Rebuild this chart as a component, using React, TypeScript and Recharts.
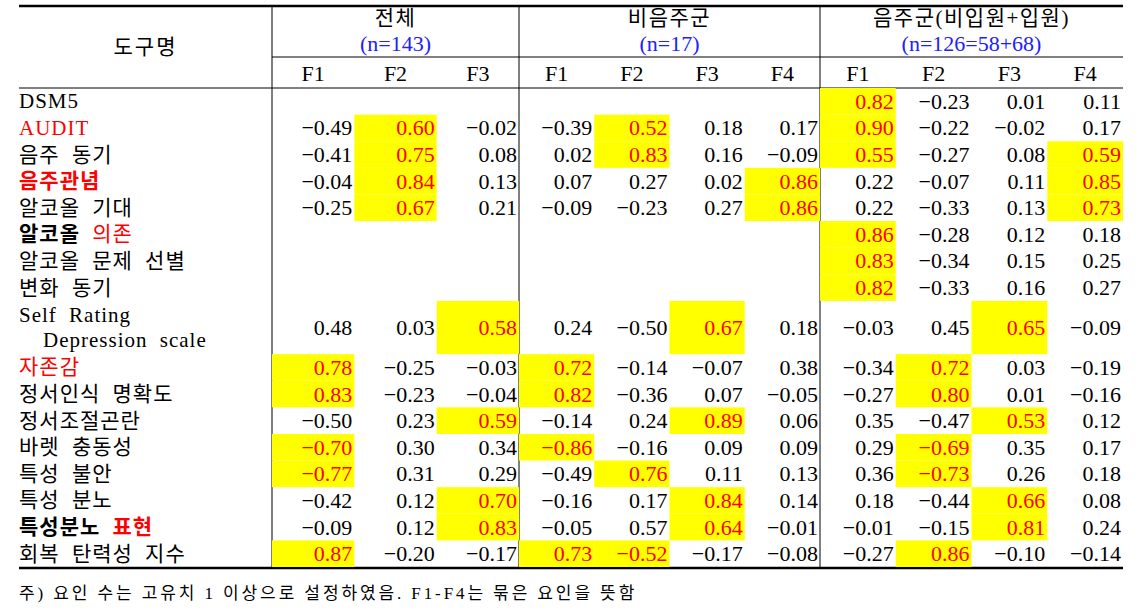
import { ScatterChart, Scatter, XAxis, YAxis, Customized } from 'recharts'

const rowLabels = [
  'DSM5',
  'AUDIT',
  '음주 동기',
  '음주관념',
  '알코올 기대',
  '알코올 의존',
  '알코올 문제 선별',
  '변화 동기',
  'Self Rating\nDepression scale',
  '자존감',
  '정서인식 명확도',
  '정서조절곤란',
  '바렛 충동성',
  '특성 불안',
  '특성 분노',
  '특성분노 표현',
  '회복 탄력성 지수'
]

const groupTitles = ['전체', '비음주군', '음주군(비입원+입원)']
const groupSizes = ['(n=143)', '(n=17)', '(n=126=58+68)']
const totalFactors = ['F1', 'F2', 'F3']
const nonDrinkFactors = ['F1', 'F2', 'F3', 'F4']
const drinkFactors = ['F1', 'F2', 'F3', 'F4']

const totalValues: (number | null)[][] = [
  [null, null, null],
  [-0.49, 0.6, -0.02],
  [-0.41, 0.75, 0.08],
  [-0.04, 0.84, 0.13],
  [-0.25, 0.67, 0.21],
  [null, null, null],
  [null, null, null],
  [null, null, null],
  [0.48, 0.03, 0.58],
  [0.78, -0.25, -0.03],
  [0.83, -0.23, -0.04],
  [-0.5, 0.23, 0.59],
  [-0.7, 0.3, 0.34],
  [-0.77, 0.31, 0.29],
  [-0.42, 0.12, 0.7],
  [-0.09, 0.12, 0.83],
  [0.87, -0.2, -0.17]
]
const totalPrimary = [[], [1], [1], [1], [1], [], [], [], [2], [0], [0], [2], [0], [0], [2], [2], [0]]

const nonDrinkValues: (number | null)[][] = [
  [null, null, null, null],
  [-0.39, 0.52, 0.18, 0.17],
  [0.02, 0.83, 0.16, -0.09],
  [0.07, 0.27, 0.02, 0.86],
  [-0.09, -0.23, 0.27, 0.86],
  [null, null, null, null],
  [null, null, null, null],
  [null, null, null, null],
  [0.24, -0.5, 0.67, 0.18],
  [0.72, -0.14, -0.07, 0.38],
  [0.82, -0.36, 0.07, -0.05],
  [-0.14, 0.24, 0.89, 0.06],
  [-0.86, -0.16, 0.09, 0.09],
  [-0.49, 0.76, 0.11, 0.13],
  [-0.16, 0.17, 0.84, 0.14],
  [-0.05, 0.57, 0.64, -0.01],
  [0.73, -0.52, -0.17, -0.08]
]
const nonDrinkPrimary = [[], [1], [1], [3], [3], [], [], [], [2], [0], [0], [2], [0], [1], [2], [2], [0, 1]]

const drinkValues: (number | null)[][] = [
  [0.82, -0.23, 0.01, 0.11],
  [0.9, -0.22, -0.02, 0.17],
  [0.55, -0.27, 0.08, 0.59],
  [0.22, -0.07, 0.11, 0.85],
  [0.22, -0.33, 0.13, 0.73],
  [0.86, -0.28, 0.12, 0.18],
  [0.83, -0.34, 0.15, 0.25],
  [0.82, -0.33, 0.16, 0.27],
  [-0.03, 0.45, 0.65, -0.09],
  [-0.34, 0.72, 0.03, -0.19],
  [-0.27, 0.8, 0.01, -0.16],
  [0.35, -0.47, 0.53, 0.12],
  [0.29, -0.69, 0.35, 0.17],
  [0.36, -0.73, 0.26, 0.18],
  [0.18, -0.44, 0.66, 0.08],
  [-0.01, -0.15, 0.81, 0.24],
  [-0.27, 0.86, -0.1, -0.14]
]
const drinkPrimary = [[0], [0], [0, 3], [3], [3], [0], [0], [0], [2], [1], [1], [2], [1], [1], [2], [2], [1]]

const footnote = '주) 요인 수는 고유치 1 이상으로 설정하였음. F1-F4는 묶은 요인을 뜻함'

// layout
const W = 1143
const H = 616
const LEFT = 19
const LABEL_W = 253
const RIGHT = 1123
const BODY_TOP = 88
const BODY_BOTTOM = 567
const GROUP_W = [247, 301, 303]
const SERIF = "'Liberation Serif', 'Noto Sans CJK KR', serif"
const YELLOW = '#ffff00'
const RED = '#ff0000'
const BLUE = '#2020ff'

// row positions in "label line" units
const rowLines = rowLabels.map((l) => l.split('\n').length)
const rowStart = rowLines.map((_, i) => rowLines.slice(0, i).reduce((a, b) => a + b, 0))
const rowMid = rowLines.map((n, i) => rowStart[i] + n / 2)
const totalUnits = rowLines.reduce((a, b) => a + b, 0)
const unitPx = (BODY_BOTTOM - BODY_TOP) / totalUnits

const buildCells = (values: (number | null)[][], primary: number[][], group: number) =>
  values.flatMap((row, r) =>
    row
      .map((v, c) => ({
        col: c + 0.5,
        row: rowMid[r],
        span: rowLines[r],
        value: v,
        hl: primary[r].includes(c),
        group
      }))
      .filter((d) => d.value !== null)
  )

const groupCells = [
  buildCells(totalValues, totalPrimary, 0),
  buildCells(nonDrinkValues, nonDrinkPrimary, 1),
  buildCells(drinkValues, drinkPrimary, 2)
]
const groupFactors = [totalFactors, nonDrinkFactors, drinkFactors]
const groupLeft = GROUP_W.map((_, i) => LEFT + LABEL_W + GROUP_W.slice(0, i).reduce((a, b) => a + b, 0))
const plotW = RIGHT - LEFT - LABEL_W

const fmt = (v: number) => (v < 0 ? '−' : '') + Math.abs(v).toFixed(2)

function ValueCell(props: any) {
  const { cx, cy, payload } = props
  if (cx == null || cy == null) return null
  const cw = GROUP_W[payload.group] / groupFactors[payload.group].length
  const h = payload.span * unitPx
  return (
    <g>
      {payload.hl && <rect x={cx - cw / 2} y={cy - h / 2} width={cw} height={h} fill={YELLOW} />}
      <text
        x={cx + cw / 2 - 2}
        y={cy}
        textAnchor="end"
        dominantBaseline="central"
        fontFamily={SERIF}
        fontSize={22}
        fill={payload.hl ? RED : '#000'}
      >
        {fmt(payload.value)}
      </text>
    </g>
  )
}

// label emphasis: [part, red, bold]
const labelParts: Record<string, [string, boolean, boolean][]> = {
  AUDIT: [['AUDIT', true, false]],
  음주관념: [['음주관념', true, true]],
  자존감: [['자존감', true, false]],
  '알코올 의존': [['알코올 ', false, true], ['의존', true, false]],
  '특성분노 표현': [['특성분노 ', false, true], ['표현', true, true]]
}

function RowLabel(props: any) {
  const { y, payload } = props
  const idx = rowMid.indexOf(payload.value)
  if (idx < 0) return null
  const label = rowLabels[idx]
  const lines = label.split('\n')
  const common = {
    fontFamily: SERIF,
    fontSize: 21,
    letterSpacing: 1,
    wordSpacing: 6,
    dominantBaseline: 'central' as const
  }
  if (lines.length > 1) {
    return (
      <g>
        {lines.map((ln, i) => (
          <text key={i} x={LEFT + (i ? 24 : 0)} y={y + (i - (lines.length - 1) / 2) * 25} fill="#000" {...common}>
            {ln}
          </text>
        ))}
      </g>
    )
  }
  const parts = labelParts[label] ?? [[label, false, false]]
  return (
    <text x={LEFT} y={y} {...common} style={{ whiteSpace: 'pre' }}>
      {parts.map(([t, red, bold], i) => (
        <tspan key={i} fill={red ? RED : '#000'} fontWeight={bold ? 700 : 400}>
          {t}
        </tspan>
      ))}
    </text>
  )
}

function TableFrame() {
  const xl = LEFT + LABEL_W
  return (
    <g>
      <line x1={LEFT} x2={RIGHT} y1={6} y2={6} stroke="#000" strokeWidth={2.5} />
      <line x1={xl} x2={RIGHT} y1={57} y2={57} stroke="#000" strokeWidth={1} />
      <line x1={LEFT} x2={RIGHT} y1={BODY_TOP} y2={BODY_TOP} stroke="#000" strokeWidth={1} />
      <line x1={LEFT} x2={RIGHT} y1={BODY_BOTTOM + 1} y2={BODY_BOTTOM + 1} stroke="#000" strokeWidth={2.5} />
      {groupLeft.map((gx, i) => (
        <line key={i} x1={gx} x2={gx} y1={7} y2={BODY_BOTTOM} stroke="#000" strokeWidth={1} />
      ))}
      <text x={LEFT + LABEL_W / 2} y={47} textAnchor="middle" dominantBaseline="central" fontFamily={SERIF} fontSize={21} letterSpacing={2}>
        도구명
      </text>
      {groupTitles.map((t, i) => {
        const cx = groupLeft[i] + GROUP_W[i] / 2
        return (
          <g key={i}>
            <text x={cx} y={18} textAnchor="middle" dominantBaseline="central" fontFamily={SERIF} fontSize={21} letterSpacing={1.5}>
              {t}
            </text>
            <text x={cx} y={43} textAnchor="middle" dominantBaseline="central" fontFamily={SERIF} fontSize={22} fill={BLUE}>
              {groupSizes[i]}
            </text>
            {groupFactors[i].map((f, j) => {
              const cw = GROUP_W[i] / groupFactors[i].length
              return (
                <text
                  key={j}
                  x={groupLeft[i] + cw * (j + 0.5)}
                  y={73}
                  textAnchor="middle"
                  dominantBaseline="central"
                  fontFamily={SERIF}
                  fontSize={22}
                >
                  {f}
                </text>
              )
            })}
          </g>
        )
      })}
      <text x={LEFT} y={593} dominantBaseline="central" fontFamily={SERIF} fontSize={17} letterSpacing={2.9} style={{ whiteSpace: 'pre' }}>
        {footnote}
      </text>
    </g>
  )
}

const axisIds = ['total', 'nonDrink', 'drink']

export default function App() {
  return (
    <div style={{ position: 'absolute', left: 0, top: 0, width: W, height: H, background: '#fff' }}>
      <ScatterChart
        width={W}
        height={H}
        margin={{ top: BODY_TOP, right: W - RIGHT, bottom: H - BODY_BOTTOM, left: LEFT }}
      >
        {axisIds.map((id, i) => {
          const padLeft = groupLeft[i] - (LEFT + LABEL_W)
          const padRight = plotW - padLeft - GROUP_W[i]
          return (
            <XAxis
              key={id}
              xAxisId={id}
              type="number"
              dataKey="col"
              domain={[0, groupFactors[i].length]}
              padding={{ left: padLeft, right: padRight }}
              hide
            />
          )
        })}
        <YAxis
          type="number"
          dataKey="row"
          domain={[0, totalUnits]}
          reversed
          width={LABEL_W}
          ticks={rowMid}
          interval={0}
          axisLine={false}
          tickLine={false}
          tick={<RowLabel />}
        />
        {groupCells.map((cells, i) => (
          <Scatter
            key={axisIds[i]}
            xAxisId={axisIds[i]}
            data={cells}
            isAnimationActive={false}
            shape={(p: any) => <ValueCell {...p} />}
          />
        ))}
        <Customized component={<TableFrame />} />
      </ScatterChart>
    </div>
  )
}
